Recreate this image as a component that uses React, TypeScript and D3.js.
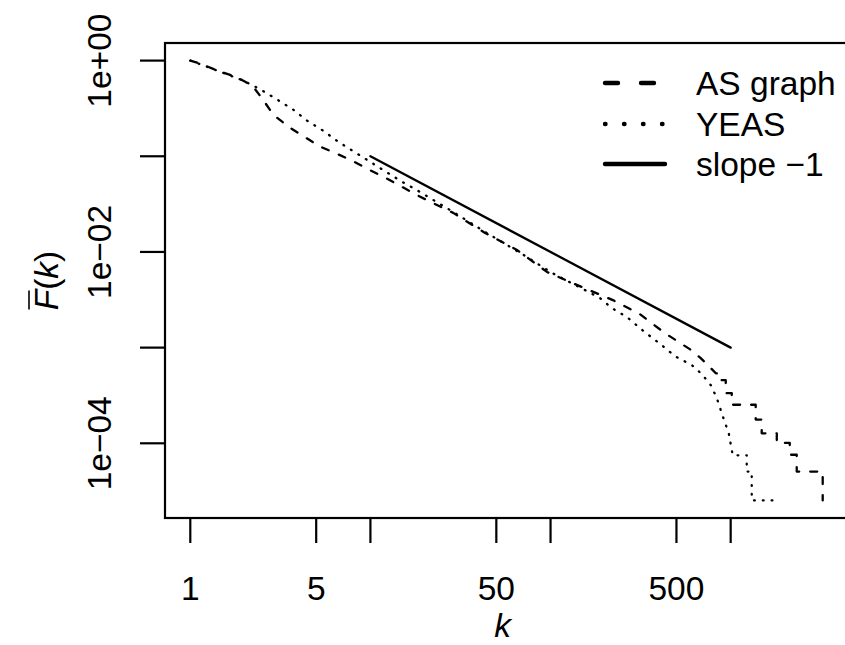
import React from "react";
import * as d3 from "d3";

// AS graph CCDF (dashed) vertices
const asK = [1, 1.14, 1.41, 1.78, 1.97, 2.21, 2.51, 2.89, 3.5, 4.29, 5.26, 6.54, 8.12, 10.1, 12.4, 18.9, 28.8, 43.3, 65.1, 95.5, 149, 222, 313, 431, 593, 682, 776, 827, 871, 871, 939, 939, 1014, 1014, 1377, 1377, 1487, 1487, 1803, 1803, 2128, 2128, 2326, 2326, 3243, 3243];
const asF = [1, 0.93, 0.786, 0.68, 0.617, 0.547, 0.4, 0.272, 0.204, 0.16, 0.126, 0.106, 0.0876, 0.0705, 0.0581, 0.0377, 0.0256, 0.0158, 0.0105, 0.00618, 0.0043, 0.00314, 0.00224, 0.00142, 0.000964, 0.000776, 0.00061, 0.00054, 0.000528, 0.000457, 0.000457, 0.000334, 0.000334, 0.000253, 0.000253, 0.000177, 0.000177, 0.000127, 0.000127, 0.000101, 0.000101, 0.0000759, 0.0000759, 0.0000506, 0.0000506, 0.0000253];

// YEAS CCDF (dotted)
const yeK = [1, 1.41, 1.97, 2.41, 3.04, 3.73, 4.46, 5.47, 6.62, 8.12, 9.96, 12.2, 15.0, 18.4, 28.8, 43.3, 69.4, 102, 155, 188, 219, 265, 334, 415, 490, 609, 692, 776, 838, 916, 976, 1027, 1228, 1228, 1309, 1309, 1757];
const yeF = [1, 0.786, 0.617, 0.509, 0.391, 0.307, 0.235, 0.185, 0.142, 0.1115, 0.0876, 0.0688, 0.0541, 0.0435, 0.0262, 0.0162, 0.00953, 0.00603, 0.004, 0.0033, 0.00259, 0.00209, 0.00145, 0.00106, 0.000814, 0.000656, 0.000528, 0.000405, 0.000296, 0.000178, 0.000127, 0.0000749, 0.0000749, 0.0000506, 0.0000506, 0.0000253, 0.0000253];

// reference line of slope -1
const slopeK = [10, 1000];
const slopeF = [0.1, 0.001];

const xTicks = [1, 5, 10, 50, 100, 500, 1000];
const xTickLabels = ["1", "5", "", "50", "", "500", ""];
const yTicks = [1, 0.1, 0.01, 0.001, 0.0001];
const yTickLabels = ["1e+00", "", "1e\u221202", "", "1e\u221204"];

const legendLabels = ["AS graph", "YEAS", "slope \u22121"];

const W = 845;
const H = 645;
const L = 165, R = 848, T = 43, B = 518;
const FONT = "'Liberation Sans', Arial, Helvetica, sans-serif";
const FS = 33.5;

function logExtent(vals: number[]): [number, number] {
  const lo = Math.log10(d3.min(vals) as number);
  const hi = Math.log10(d3.max(vals) as number);
  const pad = (hi - lo) * 0.04;
  return [Math.pow(10, lo - pad), Math.pow(10, hi + pad)];
}

export default function App() {
  const allK = asK.concat(yeK, slopeK);
  const allF = asF.concat(yeF, slopeF);
  const xd = logExtent(allK);
  const yd = logExtent(allF);
  const x = d3.scaleLog().domain(xd).range([L, R]);
  const y = d3.scaleLog().domain(yd).range([B, T]);

  const line = d3
    .line<[number, number]>()
    .x((d) => x(d[0]))
    .y((d) => y(d[1]));

  const asPts = asK.map((k, i) => [k, asF[i]] as [number, number]);
  const yePts = yeK.map((k, i) => [k, yeF[i]] as [number, number]);
  const slPts = slopeK.map((k, i) => [k, slopeF[i]] as [number, number]);

  const lw = 2.3;
  const dashStyle = { strokeDasharray: "7,11" };
  const dotStyle = { strokeDasharray: "0.8,8" };

  const legX0 = 605, legX1 = 665, legTX = 696;
  const legY = [83, 124, 164];

  const yLabCx = 58;
  const yLabCy = (T + B) / 2;

  return (
    <svg
      width={W}
      height={H}
      style={{ position: "absolute", left: 0, top: 0, background: "#fff" }}
      fontFamily={FONT}
    >
      <rect x={0} y={0} width={W} height={H} fill="#fff" />
      {/* box */}
      <rect x={L} y={T} width={R - L} height={B - T} fill="none" stroke="#000" strokeWidth={2.2} />

      {/* data lines */}
      <path d={line(asPts) || ""} fill="none" stroke="#000" strokeWidth={lw} strokeLinecap="round" strokeLinejoin="round" style={dashStyle} />
      <path d={line(yePts) || ""} fill="none" stroke="#000" strokeWidth={lw} strokeLinecap="round" strokeLinejoin="round" style={dotStyle} />
      <path d={line(slPts) || ""} fill="none" stroke="#000" strokeWidth={lw} strokeLinecap="round" />

      {/* x axis */}
      {xTicks.map((t, i) => (
        <g key={"xt" + i}>
          <line x1={x(t)} x2={x(t)} y1={B} y2={B + 25} stroke="#000" strokeWidth={2.2} />
          {xTickLabels[i] && (
            <text x={x(t)} y={600} textAnchor="middle" fontSize={FS}>
              {xTickLabels[i]}
            </text>
          )}
        </g>
      ))}
      {/* y axis */}
      {yTicks.map((t, i) => (
        <g key={"yt" + i}>
          <line x1={L} x2={L - 25} y1={y(t)} y2={y(t)} stroke="#000" strokeWidth={2.2} />
          {yTickLabels[i] && (
            <text
              transform={`translate(${111},${y(t)}) rotate(-90)`}
              textAnchor="middle"
              fontSize={FS}
            >
              {yTickLabels[i]}
            </text>
          )}
        </g>
      ))}

      {/* axis titles */}
      <text x={(L + R) / 2 - 4} y={637} textAnchor="middle" fontSize={FS} fontStyle="italic">
        k
      </text>
      <g transform={`translate(${yLabCx},${yLabCy}) rotate(-90)`}>
        <text x={0} y={0} textAnchor="middle" fontSize={FS}>
          <tspan fontStyle="italic">F</tspan>
          <tspan>(</tspan>
          <tspan fontStyle="italic">k</tspan>
          <tspan>)</tspan>
        </text>
        <line x1={-29} x2={-10} y1={-29} y2={-29} stroke="#000" strokeWidth={1.6} />
      </g>

      {/* legend */}
      <line x1={legX0} x2={legX1} y1={legY[0]} y2={legY[0]} stroke="#000" strokeWidth={4.4} strokeLinecap="round" style={{ strokeDasharray: "13,23" }} />
      <line x1={legX0} x2={legX1} y1={legY[1]} y2={legY[1]} stroke="#000" strokeWidth={4.4} strokeLinecap="round" style={{ strokeDasharray: "0.5,18.5" }} />
      <line x1={legX0} x2={legX1} y1={legY[2]} y2={legY[2]} stroke="#000" strokeWidth={4.4} strokeLinecap="round" />
      {legendLabels.map((s, i) => (
        <text key={"lg" + i} x={legTX} y={legY[i] + 12} fontSize={FS}>
          {s}
        </text>
      ))}
    </svg>
  );
}
